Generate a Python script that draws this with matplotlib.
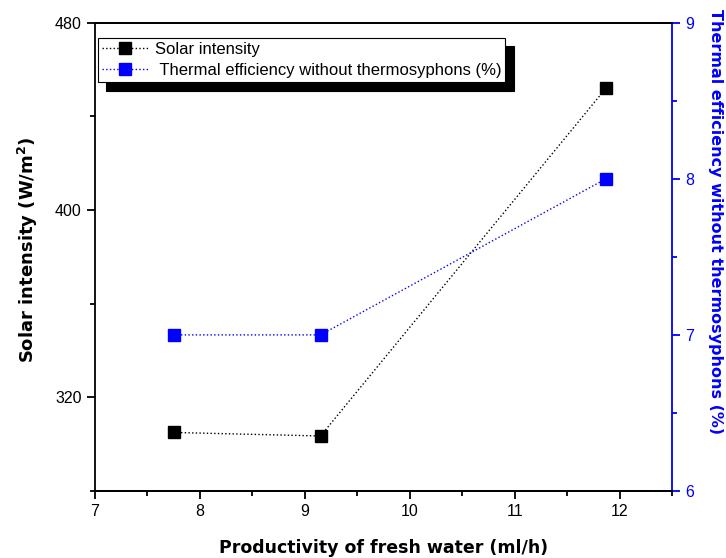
import matplotlib
matplotlib.use('Agg')
import matplotlib.pyplot as plt

# data
productivity = [7.75, 9.15, 11.87]
solar = [305, 303.5, 452]
efficiency = [7.0, 7.0, 8.0]

plt.rcParams['font.family'] = ['Liberation Sans', 'DejaVu Sans']
plt.rcParams['font.size'] = 11.5

fig = plt.figure(figsize=(7.26, 5.58), dpi=100)
ax = fig.add_axes([95 / 726, 1 - 491 / 558, 577 / 726, 468.3 / 558])
ax2 = ax.twinx()

l1, = ax.plot(productivity, solar, ls=':', lw=1, color='black', marker='s',
              ms=8.5, mfc='black', mec='black', label='Solar intensity')
l2, = ax2.plot(productivity, efficiency, ls=':', lw=1, color='#0000ff', marker='s',
               ms=8.5, mfc='#0000ff', mec='#0000ff',
               label=' Thermal efficiency without thermosyphons (%)')

ax.set_xlim(7, 12.5)
ax.set_ylim(280, 480)
ax2.set_ylim(6, 9)

ax.set_xticks([7, 8, 9, 10, 11, 12])
ax.set_xticks([7.5, 8.5, 9.5, 10.5, 11.5, 12.5], minor=True)
ax.set_yticks([320, 400, 480])
ax.set_yticks([280, 360, 440], minor=True)
ax2.set_yticks([6, 7, 8, 9])
ax2.set_yticks([6.5, 7.5, 8.5], minor=True)

for a in (ax, ax2):
    for s in a.spines.values():
        s.set_linewidth(1.3)
ax.spines['right'].set_visible(False)
ax2.spines['left'].set_visible(False)
ax2.spines['right'].set_color('#0000ff')

ax.tick_params(which='major', direction='out', length=6, width=1.3, top=False)
ax.tick_params(which='minor', direction='out', length=3.5, width=1.3, top=False)
ax2.tick_params(which='major', direction='out', length=6, width=1.3,
                colors='#0000ff', labelcolor='#0000ff')
ax2.tick_params(which='minor', direction='out', length=3.5, width=1.3,
                colors='#0000ff')

lab = dict(family='DejaVu Sans', fontweight='bold')
ax.set_xlabel('Productivity of fresh water (ml/h)', labelpad=14, fontsize=12.5, **lab)
ax.set_ylabel(r'Solar intensity (W/m$^\mathbf{2}$)', fontsize=13, va='center', **lab)
ax.yaxis.set_label_coords(-0.116, 0.515)
ax2.set_ylabel('Thermal efficiency without thermosyphons (%)', rotation=270,
               color='#0000ff', fontsize=11.5, va='center', **lab)
ax2.yaxis.set_label_coords(1.075, 0.575)

leg = ax2.legend([l1, l2], [l1.get_label(), l2.get_label()], loc='upper left',
                 bbox_to_anchor=(0.005, 0.968), borderaxespad=0, fancybox=False,
                 framealpha=1, edgecolor='black', fontsize=12, handlelength=2.8,
                 handletextpad=0.35, borderpad=0.25, labelspacing=0.37,
                 shadow={'ox': 6, 'oy': -6, 'color': 'black', 'alpha': 1})
leg.get_frame().set_linewidth(0.8)

plt.savefig('out.png', dpi=100)
